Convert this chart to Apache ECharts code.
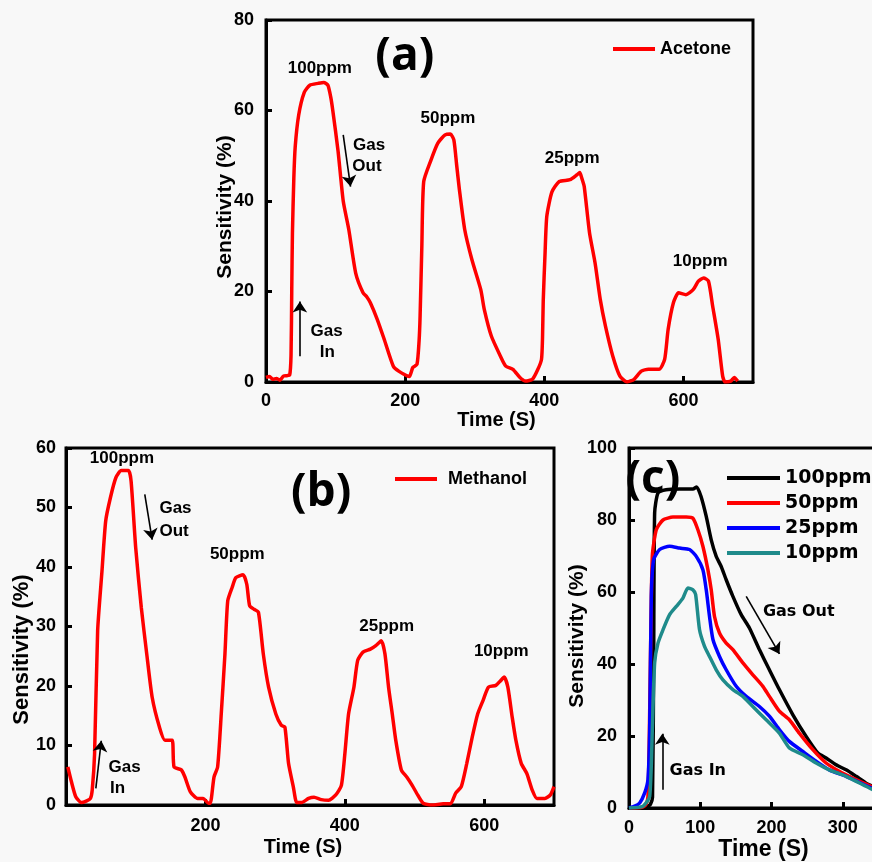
<!DOCTYPE html>
<html>
<head>
<meta charset="utf-8">
<script src="https://cdn.jsdelivr.net/npm/echarts@6/dist/echarts.min.js"></script>
<style>
  html, body { margin: 0; padding: 0; background: #f8f8f8; }
  #main { width: 872px; height: 862px; }
</style>
</head>
<body>
<div id="main"></div>
<script>
// ---- Data: [time (s), sensitivity (%)] ----
// (a) Acetone, cycles at 100 / 50 / 25 / 10 ppm
const acetone = [
  [0,1.0],[5,1.2],[10,0.6],[15,0.8],[20,0.4],[25,1.3],[30,1.4],[34,1.5],[36,6],[37,20],[38,33],
  [40,45],[42,52],[47,59],[55,64],[63,65.6],[75,66],[83,66.2],[89,65.6],[93,63],[96,60],
  [103.6,51],[111,40],[119,33.7],[129,24],[139.5,19.7],[145,18.8],[150,17.5],[160,13.8],
  [170,9.4],[183,3.5],[190.7,2.4],[201,1.5],[206,1.2],[211,3.2],[217,3.9],[220,9],[221.5,14.6],
  [224,30],[226.7,44.3],[237,49],[247,52.8],[257.4,54.6],[265,54.8],[270,53.5],[274,48],
  [278,42.5],[285.6,33.7],[296,27],[308.7,20.4],[313.8,16],[324,10.1],[337,5.7],[344.6,3.5],
  [354.9,2.8],[365,1],[373,0.2],[383,0.6],[390.8,2.8],[396,5],[397.5,10],[398.5,18],[401,28],
  [403.6,36.6],[411,42],[421.5,44.3],[437,44.7],[447,45.8],[451,46.3],[454,45],[457.4,43.2],
  [465,33],[473,26.3],[480.5,18.2],[488,12.3],[498.5,5.7],[508.7,1.3],[519,0],[529,0.6],
  [539.5,2.4],[549.7,2.8],[565,2.8],[573,5],[578,11.6],[585.6,17.5],[593,19.7],[603.6,19.3],
  [614,20.4],[621.5,22.3],[629,23],[636,22.3],[642,16.8],[650,9.4],[656.4,1.3],[660,0],
  [668,0.2],[673,1],[678,0.2]
];

// (b) Methanol, cycles at 100 / 50 / 25 / 10 ppm
const methanol = [
  [2.6,6.4],[7.8,3.9],[14,1.4],[22,0.4],[29.7,0.7],[35,1.1],[37.6,2.5],[41,8.6],[45.4,29.3],
  [51.6,39.3],[56.9,47.7],[63.6,51.6],[71.5,55],[79.3,56.2],[89.7,56.2],[93.4,54.4],[100,43.2],
  [108,33.2],[115.8,25.4],[123.6,18.1],[134,13.1],[141.9,10.9],[152.3,10.9],[155,6.4],
  [165.4,5.9],[170.6,4.7],[178.4,2.2],[188.8,1.1],[196.7,1.1],[204.5,0.3],[207,0.3],
  [212.3,4.7],[217.5,6.4],[222.7,15.3],[228,25.4],[232,34.3],[238.4,36.6],[243.6,38.2],
  [254,38.7],[259.3,37.1],[263.4,33.5],[269.7,32.9],[276,32.4],[283,25.4],[290.6,19.8],
  [301,15.3],[308.8,13.4],[314,13.1],[319.2,7],[326,3.1],[331,0.4],[337.5,0.4],[348,1.1],
  [355.8,1.3],[366.2,0.9],[376.6,0.8],[387,1.7],[395,3.3],[400,8.6],[405.3,15.3],[413,19.8],
  [418.4,24.3],[426,25.7],[436.6,26.2],[444.4,26.8],[452.3,27.6],[457.5,25.4],[462.7,19.8],
  [468,15.3],[473,10.9],[481,5.9],[488.8,4.7],[496.6,3.3],[504.4,1.7],[512.3,0.3],[525.3,0],
  [541,0.2],[551.4,0.2],[559,2],[567,3.1],[574.9,7],[582.7,11.4],[590.5,15.3],[598.3,17.6],
  [606,19.8],[616.6,20.1],[623.4,20.9],[628.6,21.5],[633.8,19.8],[640,14.8],[645.3,10.9],
  [653,7],[661,5.3],[668.8,2.5],[675.5,1.1],[687,1.1],[694.8,1.7],[700,3.1]
];

// (c) single response cycles at each concentration
const resp100 = [
  [0,0],[10,0],[20,0],[26.6,0.5],[30,1],[33,3],[34.6,40],[36,82],[40.7,87.5],[52,88.4],[71,88.6],
  [89.7,88.6],[95,89.2],[101,86.6],[108.4,81],[115.4,74.5],[122.4,69.9],[129.4,67.1],[136.4,63.4],
  [145.8,58.8],[157.5,53.7],[169,50],[183,44],[197,38.4],[211,32.9],[230,25.9],[248.6,19.9],
  [265,15.3],[276.6,13.9],[290.6,12],[304.7,10.6],[318.7,8.8],[332.7,6.9],[340,6.2],[350,5.3]
];
const resp50 = [
  [0,0],[10,0],[20,0.3],[24,1],[26.6,3.2],[28.5,20],[30,40],[32.7,70],[38.3,77.3],[47.7,80],
  [61.7,80.8],[80.4,80.8],[89.7,80.5],[96.7,77.3],[103.7,72.7],[110.7,66.2],[115.4,60.6],
  [120,53.2],[127,48.6],[136.4,45.8],[145.8,44],[159.8,40.3],[173.8,37],[187.9,33.8],[197,31],
  [211,26.9],[225,24.5],[239,20.8],[258,16.2],[276.6,12.5],[295,10.2],[314,8.3],[340,6],[350,5.2]
];
const resp25 = [
  [0,0],[8,0.5],[15,1.4],[22,4.2],[26.6,7.9],[29,21.8],[31.3,58.8],[34.6,69],[43,71.8],[57,72.7],
  [71,72.2],[85,71.8],[94.4,69.9],[103.7,66.2],[108.4,60.6],[113,53.2],[117.8,46.8],[127,42.1],
  [136.4,38.4],[150.5,33.8],[164.5,31],[183,28.2],[197,25.5],[211,21.8],[225,18.5],[244,15.7],
  [262.6,13],[281,10.6],[304.7,8.8],[340,5.6],[350,4.8]
];
const resp10 = [
  [0,0],[19.6,0.5],[29,3.2],[32.7,21.8],[36,40.3],[40.7,45.8],[47.7,49.5],[57,53.7],[66.4,56],
  [75.7,58.3],[82.7,61.1],[89.7,60.6],[93.5,59.3],[99,49.5],[106,44.9],[113,42.1],[122.4,38.4],
  [131.8,35.6],[145.8,32.9],[159.8,31],[173.8,28.2],[192.5,24.5],[211,20.8],[225,16.7],
  [244,14.8],[262.6,12.5],[281,10.6],[304.7,8.8],[340,5.3],[350,4.5]
];

// Axis ranges and tick steps
const axisA = { xMax: 700, xStep: 200, yMax: 80, yStep: 20 };
const axisB = { xMax: 700, xStep: 200, yMax: 60, yStep: 10 };
const axisC = { xMax: 400, xStep: 100, yMax: 100, yStep: 20 };

const ARIAL = "'Liberation Sans', Arial, sans-serif";
const WIDE = "'DejaVu Sans', Verdana, sans-serif";
const RED = '#ff0000';

function xAxisCfg(gi, ax, o) {
  return {
    type: 'value', gridIndex: gi, min: 0, max: ax.xMax, interval: ax.xStep,
    axisLine: { show: true, onZero: false, lineStyle: { color: '#000', width: 3 } },
    axisTick: { show: true, inside: true, length: 6, lineStyle: { color: '#000', width: 3 } },
    axisLabel: { color: '#000', fontSize: 18, fontWeight: 'bold', fontFamily: ARIAL,
                 margin: o.labelMargin, showMinLabel: o.showMin, showMaxLabel: o.showMax },
    splitLine: { show: false },
    name: 'Time (S)', nameLocation: 'middle', nameGap: o.nameGap, nameMoveOverlap: false,
    nameTextStyle: { color: '#000', fontSize: o.nameSize, fontWeight: 'bold', fontFamily: ARIAL,
                     padding: o.namePad }
  };
}
function yAxisCfg(gi, ax, o) {
  return {
    type: 'value', gridIndex: gi, min: 0, max: ax.yMax, interval: ax.yStep,
    axisLine: { show: true, onZero: false, lineStyle: { color: '#000', width: 3 } },
    axisTick: { show: true, inside: true, length: 6, lineStyle: { color: '#000', width: 3 } },
    axisLabel: { color: '#000', fontSize: 18, fontWeight: 'bold', fontFamily: ARIAL, margin: o.labelMargin },
    splitLine: { show: false },
    name: 'Sensitivity (%)', nameLocation: 'middle', nameGap: o.nameGap, nameMoveOverlap: false,
    nameTextStyle: { color: '#000', fontSize: o.nameSize, fontWeight: 'bold', fontFamily: ARIAL,
                     padding: o.namePad }
  };
}
function arrowLines(pairs) {
  return {
    silent: true, animation: false,
    symbol: ['none', 'arrow'], symbolSize: 11,
    label: { show: false },
    lineStyle: { color: '#000', width: 1.6, type: 'solid' },
    emphasis: { disabled: true },
    data: pairs.map(p => [{ coord: p[0] }, { coord: p[1] }])
  };
}
function lineSeries(name, gi, data, color, extra) {
  return Object.assign({
    type: 'line', name, xAxisIndex: gi, yAxisIndex: gi, data,
    showSymbol: false, symbol: 'none', smooth: 0.2,
    lineStyle: { color, width: 3.5 }, itemStyle: { color },
    emphasis: { disabled: true }, animation: false, z: 3
  }, extra || {});
}

const gridBox = { show: true, borderColor: '#000', borderWidth: 3, backgroundColor: 'transparent',
                  containLabel: false, outerBoundsMode: 'none' };

const option = {
  backgroundColor: '#f8f8f8',
  animation: false,
  grid: [
    Object.assign({ left: 266, top: 20, width: 487, height: 362 }, gridBox),
    Object.assign({ left: 66, top: 448, width: 488, height: 357 }, gridBox),
    Object.assign({ left: 629, top: 448, width: 285, height: 360 }, gridBox)
  ],
  xAxis: [
    xAxisCfg(0, axisA, { labelMargin: 10, showMin: true, showMax: false, nameGap: 28, nameSize: 20, namePad: [0, 26, 0, 0] }),
    xAxisCfg(1, axisB, { labelMargin: 12, showMin: false, showMax: false, nameGap: 32, nameSize: 20, namePad: [0, 14, 0, 0] }),
    xAxisCfg(2, axisC, { labelMargin: 11, showMin: true, showMax: true, nameGap: 30, nameSize: 23, namePad: [0, 16, 0, 0] })
  ],
  yAxis: [
    yAxisCfg(0, axisA, { labelMargin: 12, nameGap: 30, nameSize: 21, namePad: [0, 12, 0, 0] }),
    yAxisCfg(1, axisB, { labelMargin: 10, nameGap: 33, nameSize: 22, namePad: [0, 46, 0, 0] }),
    yAxisCfg(2, axisC, { labelMargin: 12, nameGap: 41, nameSize: 21, namePad: [0, 16, 0, 0] })
  ],
  legend: [
    { data: ['Acetone'], left: 608, top: 35, icon: 'rect', itemWidth: 42, itemHeight: 4,
      textStyle: { color: '#000', fontSize: 18, fontWeight: 'bold', fontFamily: ARIAL }, selectedMode: false },
    { data: ['Methanol'], left: 390, top: 465, icon: 'rect', itemWidth: 42, itemHeight: 4,
      textStyle: { color: '#000', fontSize: 18, fontWeight: 'bold', fontFamily: ARIAL, padding: [0, 0, 0, 6] }, selectedMode: false },
    { data: ['100ppm', '50ppm', '25ppm', '10ppm'], left: 722, top: 463, orient: 'vertical',
      icon: 'rect', itemWidth: 53, itemHeight: 4, itemGap: 5,
      textStyle: { color: '#000', fontSize: 19, fontWeight: 'bold', fontFamily: WIDE, lineHeight: 20 },
      selectedMode: false }
  ],
  series: [
    lineSeries('Acetone', 0, acetone, RED, {
      markLine: arrowLines([[[48.7, 5.7], [48.7, 17.8]], [[111, 54.6], [121.5, 43.2]]])
    }),
    lineSeries('Methanol', 1, methanol, RED, {
      markLine: arrowLines([[[42.8, 2.8], [50.6, 10.8]], [[113, 52.2], [123.6, 44.6]]])
    }),
    lineSeries('100ppm', 2, resp100, '#000000', {
      markLine: arrowLines([[[46.7, 5.1], [46.7, 20.6]], [[164.5, 58.8], [211.2, 42.8]]])
    }),
    lineSeries('50ppm', 2, resp50, RED),
    lineSeries('25ppm', 2, resp25, '#0000ff'),
    lineSeries('10ppm', 2, resp10, '#1f8b8b')
  ]
};

const chart = echarts.init(document.getElementById('main'), null, { renderer: 'canvas' });
chart.setOption(option);

// Text annotations placed in each panel's data space
const notes = [
  // panel, text, [t, v], size, family, align
  [0, '(a)', [199.5, 71.9], 46, "'Open Sans', sans-serif", 'center'],
  [0, '100ppm', [77.4, 69.3], 17, ARIAL, 'center'],
  [0, '50ppm', [261.5, 58.3], 17, ARIAL, 'center'],
  [0, '25ppm', [440, 49.5], 17, ARIAL, 'center'],
  [0, '10ppm', [624, 26.7], 17, ARIAL, 'center'],
  [0, 'Gas', [125, 52.3], 17, ARIAL, 'left'],
  [0, 'Out', [124, 47.6], 17, ARIAL, 'left'],
  [0, 'Gas', [87, 11.25], 17, ARIAL, 'center'],
  [0, 'In', [88, 6.6], 17, ARIAL, 'center'],
  [1, '(b)', [366, 52.5], 46, "'Open Sans', sans-serif", 'center'],
  [1, '100ppm', [80.3, 58.3], 17, ARIAL, 'center'],
  [1, '50ppm', [245.7, 42.1], 17, ARIAL, 'center'],
  [1, '25ppm', [460, 30], 17, ARIAL, 'center'],
  [1, '10ppm', [624.4, 25.9], 17, ARIAL, 'center'],
  [1, 'Gas', [134, 49.8], 17, ARIAL, 'left'],
  [1, 'Out', [134, 46], 17, ARIAL, 'left'],
  [1, 'Gas', [61, 6.4], 17, ARIAL, 'left'],
  [1, 'In', [74, 2.8], 17, ARIAL, 'center'],
  [2, '(c)', [33.6, 91.2], 46, "'Open Sans', sans-serif", 'center'],
  [2, 'Gas Out', [187.9, 54.6], 16, WIDE, 'left'],
  [2, 'Gas In', [57, 10.2], 16, WIDE, 'left']
];

chart.setOption({
  graphic: notes.map(n => {
    const p = chart.convertToPixel({ gridIndex: n[0] }, n[2]);
    return {
      type: 'text', x: p[0], y: p[1], z: 10, silent: true,
      style: { text: n[1], fill: '#000', fontSize: n[3], fontWeight: 'bold', fontFamily: n[4],
               align: n[5], verticalAlign: 'middle' }
    };
  })
});
</script>
</body>
</html>
